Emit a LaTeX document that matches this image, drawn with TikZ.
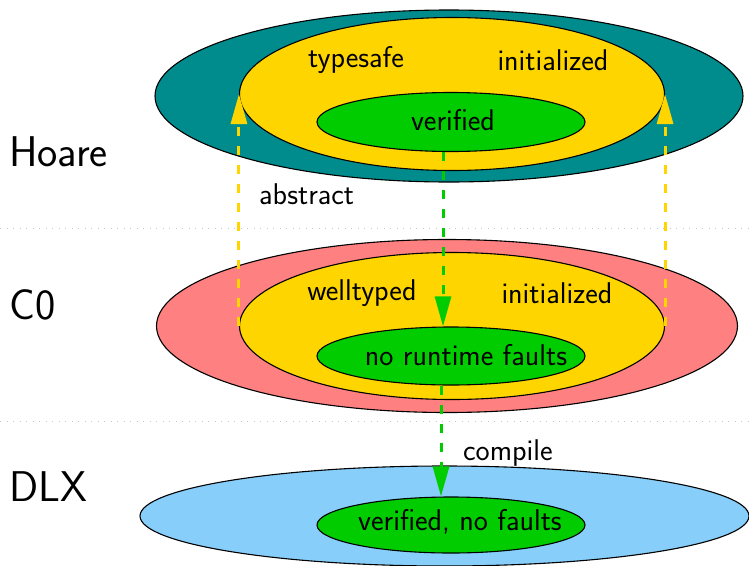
\documentclass[tikz,border=0pt]{standalone}
\usetikzlibrary{shapes.geometric,arrows.meta}
\definecolor{tealc}{RGB}{0,140,140}
\definecolor{goldc}{RGB}{255,213,0}
\definecolor{greenc}{RGB}{0,204,0}
\definecolor{pinkc}{RGB}{255,128,128}
\definecolor{bluec}{RGB}{135,206,250}
\begin{document}
\begin{tikzpicture}[x=1pt,y=-1pt,
  blob/.style={ellipse,draw=black,line width=1.1pt,inner sep=0pt},
  txt/.style={font=\sffamily\fontsize{30}{34}\selectfont,inner sep=0pt},
  big/.style={font=\sffamily\fontsize{43}{48}\selectfont,inner sep=0pt},
  sep/.style={draw=gray!45,line width=1pt,dash pattern=on 1pt off 5.5pt},
  yarr/.style={draw=goldc,line width=3pt,dash pattern=on 9pt off 10pt,-{Triangle[length=30pt,width=16pt]}},
  garr/.style={draw=greenc,line width=3pt,dash pattern=on 9pt off 10pt,-{Triangle[length=30pt,width=16pt]}}]
\useasboundingbox (0,0) rectangle (749,565);
% separators
\coordinate (s1a) at (0,228); \coordinate (s1b) at (749,228);
\coordinate (s2a) at (0,421); \coordinate (s2b) at (749,421);
\draw[sep] (s1a) -- (s1b);
\draw[sep] (s2a) -- (s2b);
% level labels
\node[big,anchor=west] (lh) at (9,152) {Hoare};
\node[big,anchor=west] (lc) at (9,305) {C0};
\node[big,anchor=west] (ld) at (9,487) {DLX};
% Hoare
\node[blob,fill=tealc,minimum width=588pt,minimum height=172pt] (hout) at (449,96) {};
\node[blob,fill=goldc,minimum width=425pt,minimum height=153pt] (hin) at (452,94) {};
\node[blob,fill=greenc,minimum width=268pt,minimum height=59pt] (hver) at (451,122) {};
\node[txt] (tsafe) at (356,60) {typesafe};
\node[txt] (hinit) at (553,60) {initialized};
\node[txt] (tver) at (453,120) {verified};
% C0
\node[blob,fill=pinkc,minimum width=581pt,minimum height=173pt] (cout) at (447,326) {};
\node[blob,fill=goldc,minimum width=425pt,minimum height=147pt] (cin) at (452,326) {};
\node[blob,fill=greenc,minimum width=268pt,minimum height=58pt] (cnrf) at (451,356) {};
\node[txt] (wt) at (362,293) {welltyped};
\node[txt] (cinit) at (557,293) {initialized};
\node[txt] (tnrf) at (466,355) {no runtime faults};
% DLX
\node[blob,fill=bluec,minimum width=609pt,minimum height=100pt] (dout) at (444.5,516) {};
\node[blob,fill=greenc,minimum width=268pt,minimum height=56pt] (dver) at (451,525) {};
\node[txt] (tdver) at (460,522) {verified, no faults};
% arrows
\draw[yarr] (cin.west) -- (hin.west);
\draw[yarr] (cin.east) -- (hin.east);
\draw[garr] (hver.south -| 443,0) -- (cnrf.north -| 443,0);
\draw[garr] (cnrf.south -| 441,0) -- (dver.north -| 441,0);
\node[txt,anchor=west] (abs) at (259,194) {abstract};
\node[txt,anchor=west] (comp) at (463,453) {compile};
\end{tikzpicture}
\end{document}
